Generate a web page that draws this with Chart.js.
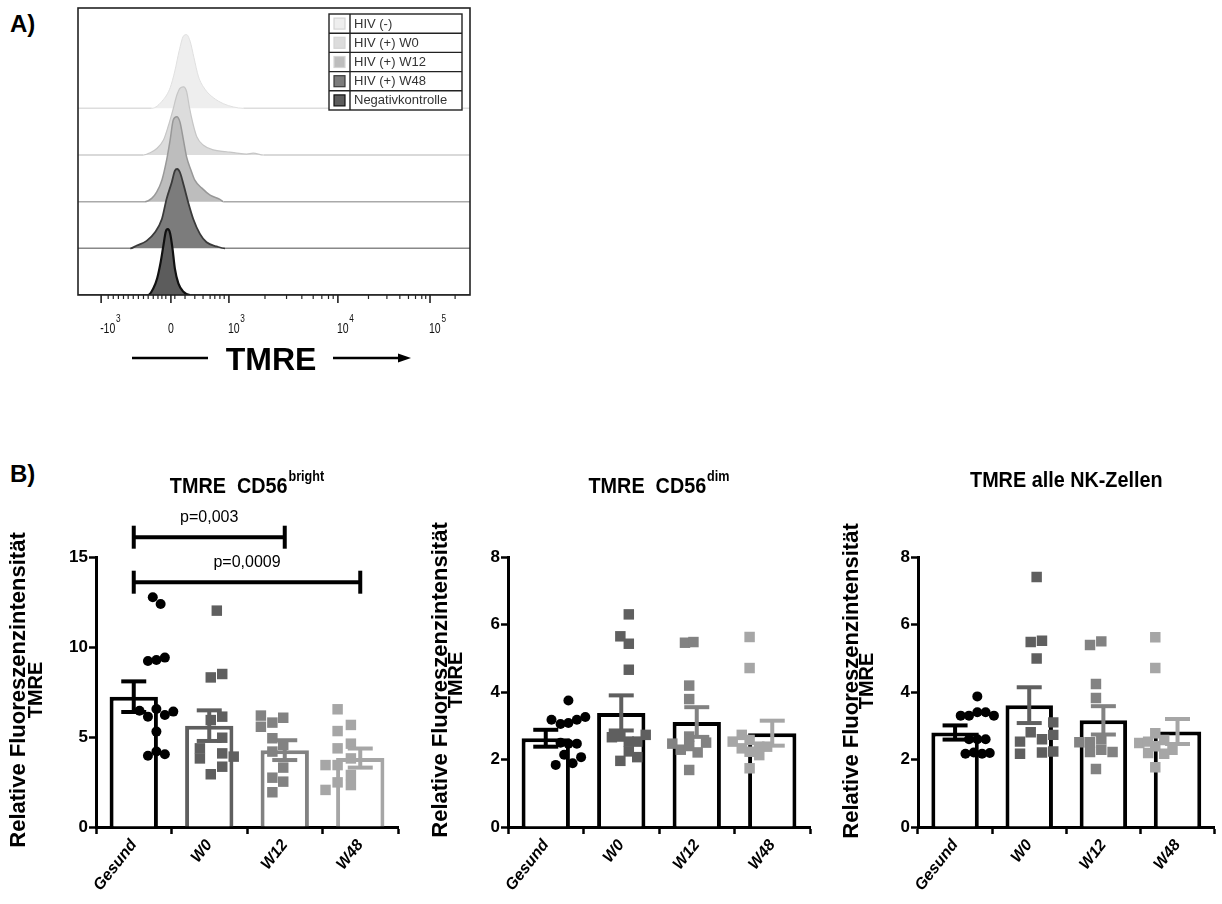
<!DOCTYPE html>
<html>
<head>
<meta charset="utf-8">
<title>TMRE</title>
<script src="https://cdn.jsdelivr.net/npm/chart.js@4.4.1/dist/chart.umd.min.js"></script>
<style>
  body { margin: 0; background: #fff; width: 1222px; height: 904px; overflow: hidden; position: relative;
         font-family: "Liberation Sans", Arial, sans-serif; }
  canvas { position: absolute; }
  .tag { position: absolute; font-weight: bold; font-size: 24px; line-height: 1; }
</style>
</head>
<body>
<div class="tag" style="left:10px;top:12px">A)</div>
<div class="tag" style="left:10px;top:462px">B)</div>
<canvas id="histChart" width="480" height="380" style="left:0;top:0"></canvas>
<canvas id="brightChart" width="410" height="444" style="left:0;top:460px"></canvas>
<canvas id="dimChart" width="410" height="444" style="left:410px;top:460px"></canvas>
<canvas id="allChart" width="402" height="444" style="left:820px;top:460px"></canvas>
<script>
// ---------- data: panel A (histogram, display channels 0..1000, counts in lane units)
const histLabels = ['HIV (-)', 'HIV (+) W0', 'HIV (+) W12', 'HIV (+) W48', 'Negativkontrolle'];
const hivNegX = [188, 218, 235, 247, 258, 269, 277, 286, 296, 307, 324, 345, 371, 396, 422];
const hivNegH = [0, 0.19, 0.44, 0.80, 1.23, 1.55, 1.58, 1.44, 1.08, 0.69, 0.41, 0.23, 0.10, 0.03, 0];
const w0X = [167, 184, 201, 218, 230, 242, 252, 260, 269, 277, 284, 293, 303, 320, 345, 379, 405, 430, 447, 473];
const w0H = [0, 0.05, 0.14, 0.32, 0.61, 0.96, 1.28, 1.43, 1.46, 1.36, 1.03, 0.68, 0.39, 0.21, 0.11, 0.07, 0.04, 0.02, 0.04, 0];
const w12X = [171, 188, 201, 214, 226, 235, 243, 252, 260, 269, 277, 288, 298, 316, 337, 362, 371];
const w12H = [0, 0.07, 0.21, 0.46, 0.89, 1.32, 1.75, 1.82, 1.71, 1.32, 0.96, 0.68, 0.46, 0.29, 0.14, 0.05, 0];
const w48X = [133, 150, 175, 196, 214, 226, 239, 247, 253, 260, 270, 281, 294, 311, 328, 354, 375];
const w48H = [0, 0.06, 0.16, 0.34, 0.63, 1.06, 1.41, 1.66, 1.70, 1.63, 1.34, 0.99, 0.63, 0.31, 0.13, 0.04, 0];
const negX = [179, 192, 202, 211, 218, 224, 229, 235, 241, 247, 256, 269, 286];
const negH = [0, 0.14, 0.36, 0.71, 1.07, 1.36, 1.41, 1.32, 1.0, 0.57, 0.25, 0.07, 0];

const histTickPos = [59, 237, 385, 663, 898];
const histTickBase = ['-10', '0', '10', '10', '10'];
const histTickExp = ['3', '', '3', '4', '5'];
const histMinorTicks = [77, 90, 103, 116, 128, 141, 154, 167, 179, 192, 204, 214, 224,
  247, 273, 298, 319, 337, 349, 362, 373, 477, 532, 571, 600, 622, 639, 651,
  741, 788, 821, 843, 861, 877, 887, 962];

// ---------- data: panel B
const categories = ['Gesund', 'W0', 'W12', 'W48'];

const brightGesund = [12.76, 12.39, 9.22, 9.28, 9.41, 6.46, 6.13, 6.56, 6.22, 6.41, 5.30, 3.96, 4.19, 4.04];
const brightW0 = [12.02, 8.31, 8.50, 5.94, 6.13, 4.37, 3.81, 4.96, 4.09, 3.91, 3.35, 2.93];
const brightW12 = [6.19, 5.57, 5.80, 6.07, 4.93, 4.56, 4.19, 3.30, 2.74, 2.52, 1.93];
const brightW48 = [6.54, 5.67, 5.33, 4.63, 4.37, 3.44, 3.81, 3.44, 2.89, 2.33, 2.48, 2.06];
const brightMean = [7.24, 5.63, 4.27, 3.83];
const brightSem = [0.85, 0.85, 0.55, 0.53];

const dimGesund = [3.75, 3.18, 3.05, 3.08, 3.18, 3.26, 2.50, 2.47, 2.47, 2.14, 2.07, 1.84, 1.89];
const dimW0 = [6.30, 5.65, 5.43, 4.66, 2.66, 2.68, 2.53, 2.53, 2.73, 2.24, 2.07, 1.96];
const dimW12 = [5.46, 5.48, 4.19, 3.79, 2.47, 2.50, 2.29, 2.21, 2.68, 2.40, 1.69];
const dimW48 = [5.63, 4.71, 2.73, 2.53, 2.58, 2.38, 2.38, 2.33, 2.13, 2.23, 1.74];
const dimMean = [2.63, 3.38, 3.11, 2.78];
const dimSem = [0.25, 0.52, 0.44, 0.37];

const allGesund = [3.87, 3.30, 3.30, 3.40, 3.40, 3.30, 2.60, 2.60, 2.60, 2.17, 2.21, 2.17, 2.19];
const allW0 = [7.41, 5.48, 5.52, 4.99, 2.81, 3.10, 2.73, 2.24, 2.53, 2.17, 2.60, 2.21];
const allW12 = [5.39, 5.50, 4.24, 3.82, 2.51, 2.22, 2.51, 2.60, 2.22, 2.29, 1.72];
const allW48 = [5.62, 4.71, 2.49, 2.53, 2.58, 2.29, 2.19, 2.17, 2.39, 1.77, 2.78];
const allMean = [2.80, 3.61, 3.16, 2.83];
const allSem = [0.21, 0.53, 0.42, 0.37];

// horizontal scatter of the dots inside each column, in category widths
const brightJitter = [
  [-0.06, 0.07, -0.14, 0, 0.14, -0.28, -0.14, 0, 0.14, 0.28, 0, -0.14, 0, 0.14],
  [0, -0.10, 0.09, -0.10, 0.09, -0.28, -0.28, 0.09, 0.09, 0.28, 0.09, -0.10],
  [-0.27, -0.27, -0.08, 0.10, -0.08, 0.10, -0.08, 0.10, -0.08, 0.10, -0.08],
  [0, 0.22, 0, 0.22, 0, -0.20, 0.22, 0, 0.22, 0.22, 0, -0.20]
];
const dimJitter = [
  [0, -0.28, -0.13, 0, 0.14, 0.28, -0.13, 0, 0.14, -0.07, 0.21, -0.21, 0.07],
  [0, -0.14, 0, 0, -0.28, -0.14, 0, 0.14, 0.28, 0, 0.14, -0.14],
  [-0.07, 0.07, 0, 0, -0.28, 0.28, -0.14, 0.14, 0, 0, 0],
  [0, 0, -0.13, -0.28, 0, 0.16, 0.29, -0.13, 0.16, 0, 0]
];
const allJitter = [
  [0, -0.28, -0.14, 0, 0.14, 0.28, -0.14, 0, 0.14, -0.20, -0.06, 0.08, 0.21],
  [0, -0.10, 0.09, 0, -0.10, 0.28, 0.28, 0.28, -0.28, -0.28, 0.09, 0.09],
  [-0.10, 0.09, 0, 0, -0.28, 0.28, -0.10, 0.09, -0.10, 0.09, 0],
  [0, 0, -0.27, -0.12, 0.15, 0.29, -0.12, 0.15, 0, 0, 0]
];

const sigPairs = [[0, 2], [0, 3]];
const sigLevels = [16.1, 13.6];
const sigLabels = ['p=0,003', 'p=0,0009'];

const yTitle = ['Relative Fluoreszenzintensität', 'TMRE'];

// ---------- styling
const FONT = '"Liberation Sans", Arial, Helvetica, sans-serif';
Chart.defaults.font.family = FONT;
Chart.defaults.color = '#000';
Chart.defaults.animation = false;

const histFill = ['#eeeeee', '#dcdcdc', '#bdbdbd', '#7c7c7c', '#5c5c5c'];
const histLine = ['#e0e0e0', '#c6c6c6', '#989898', '#3a3a3a', '#111111'];
const laneLine = ['#dddddd', '#cccccc', '#aaaaaa', '#888888', '#111111'];
const histWidth = [1, 1.2, 1.5, 1.8, 2.2];
const laneBase = [4, 3, 2, 1, 0];

const groupColors = ['#000000', '#5f5f5f', '#828282', '#a6a6a6'];

function line(ctx, x1, y1, x2, y2) {
    ctx.beginPath();
    ctx.moveTo(x1, y1);
    ctx.lineTo(x2, y2);
    ctx.stroke();
}

// ---------- panel A
const histSeries = [[hivNegX, hivNegH], [w0X, w0H], [w12X, w12H], [w48X, w48H], [negX, negH]];

const histDatasets = histSeries.map(([xs, hs], i) => {
    const base = laneBase[i];
    const pts = [{ x: 0, y: base }];
    xs.forEach((v, k) => pts.push({ x: v, y: base + hs[k] }));
    pts.push({ x: 1000, y: base });
    return {
        label: histLabels[i],
        data: pts,
        order: 4 - i,
        fill: { value: base },
        backgroundColor: histFill[i],
        borderColor: histLine[i],
        borderWidth: histWidth[i],
        pointRadius: 0,
        cubicInterpolationMode: 'monotone',
        segment: {
            borderColor: c => (c.p0.parsed.y === base && c.p1.parsed.y === base) ? laneLine[i] : undefined,
            borderWidth: c => (c.p0.parsed.y === base && c.p1.parsed.y === base) ? 1.5 : undefined
        }
    };
});

const histDecor = {
    id: 'histDecor',
    afterDraw(chart) {
        const { ctx, chartArea: a, scales: { x } } = chart;
        ctx.save();
        ctx.strokeStyle = '#222';
        ctx.lineWidth = 1.6;
        ctx.strokeRect(a.left, a.top, a.right - a.left, a.bottom - a.top);

        // axis ticks
        ctx.lineWidth = 1.6;
        histTickPos.forEach(v => { const px = x.getPixelForValue(v); line(ctx, px, a.bottom, px, a.bottom + 8); });
        ctx.lineWidth = 1.2;
        histMinorTicks.forEach(v => { const px = x.getPixelForValue(v); line(ctx, px, a.bottom, px, a.bottom + 4); });

        // tick labels with exponents (narrow type, as in the cytometry export)
        ctx.fillStyle = '#111';
        ctx.textBaseline = 'alphabetic';
        histTickPos.forEach((v, i) => {
            const px = x.getPixelForValue(v);
            ctx.save();
            ctx.translate(px - 1, 333);
            ctx.scale(0.75, 1);
            ctx.font = '14px ' + FONT;
            if (!histTickExp[i]) {
                ctx.textAlign = 'center';
                ctx.fillText(histTickBase[i], 1.2, 0);
            } else {
                ctx.textAlign = 'left';
                const w = ctx.measureText(histTickBase[i]).width;
                ctx.fillText(histTickBase[i], 0, 0);
                ctx.font = '11px ' + FONT;
                ctx.fillText(histTickExp[i], w + 1, -11);
            }
            ctx.restore();
        });

        // legend table
        const lx = 329, ly = 14, lw = 133, rh = 19.2;
        ctx.fillStyle = '#fff';
        ctx.fillRect(lx, ly, lw, rh * histLabels.length);
        ctx.strokeStyle = '#222';
        ctx.lineWidth = 1.4;
        ctx.strokeRect(lx, ly, lw, rh * histLabels.length);
        line(ctx, lx + 21, ly, lx + 21, ly + rh * histLabels.length);
        histLabels.forEach((lab, i) => {
            const cy = ly + rh * i + rh / 2;
            if (i > 0) line(ctx, lx, ly + rh * i, lx + lw, ly + rh * i);
            ctx.fillStyle = histFill[i];
            ctx.fillRect(lx + 5, cy - 5.5, 11, 11);
            ctx.strokeStyle = i > 2 ? histLine[i] : '#d4d4d4';
            ctx.lineWidth = 1.2;
            ctx.strokeRect(lx + 5, cy - 5.5, 11, 11);
            ctx.strokeStyle = '#222';
            ctx.lineWidth = 1.4;
            ctx.fillStyle = '#333';
            ctx.font = '13px ' + FONT;
            ctx.textAlign = 'left';
            ctx.textBaseline = 'middle';
            ctx.fillText(lab, lx + 25, cy + 0.5);
        });

        // axis name with arrows
        ctx.fillStyle = '#000';
        ctx.font = 'bold 32px ' + FONT;
        ctx.textAlign = 'center';
        ctx.textBaseline = 'alphabetic';
        ctx.fillText('TMRE', 271, 370);
        ctx.strokeStyle = '#000';
        ctx.lineWidth = 2.4;
        line(ctx, 132, 358, 208, 358);
        line(ctx, 333, 358, 400, 358);
        ctx.beginPath();
        ctx.moveTo(398, 353.5);
        ctx.lineTo(411, 358);
        ctx.lineTo(398, 362.5);
        ctx.closePath();
        ctx.fill();
        ctx.restore();
    }
};

new Chart(document.getElementById('histChart'), {
    type: 'line',
    data: { datasets: histDatasets },
    options: {
        responsive: false,
        events: [],
        layout: { padding: { left: 78, right: 10, top: 8, bottom: 85 } },
        plugins: { legend: { display: false }, tooltip: { enabled: false } },
        scales: {
            x: { type: 'linear', min: 0, max: 1000, display: false },
            y: { min: 0, max: 6.15, display: false }
        }
    },
    plugins: [histDecor]
});

// ---------- panel B
function makeDecor(c) {
    return {
        id: 'barDecor',
        afterDatasetsDraw(chart) {
            const { ctx, scales: { x, y } } = chart;
            ctx.save();
            ctx.lineWidth = 4;
            c.means.forEach((m, i) => {
                const px = x.getPixelForValue(i);
                const top = y.getPixelForValue(m + c.sem[i]);
                const bot = y.getPixelForValue(m - c.sem[i]);
                ctx.strokeStyle = groupColors[i];
                line(ctx, px, top, px, bot);
                line(ctx, px - 12.5, top, px + 12.5, top);
                line(ctx, px - 12.5, bot, px + 12.5, bot);
            });
            // significance brackets
            (c.pairs || []).forEach(([a, b], i) => {
                const x1 = x.getPixelForValue(a), x2 = x.getPixelForValue(b);
                const py = y.getPixelForValue(c.levels[i]);
                ctx.strokeStyle = '#000';
                line(ctx, x1, py, x2, py);
                line(ctx, x1, py - 11.5, x1, py + 11.5);
                line(ctx, x2, py - 11.5, x2, py + 11.5);
                ctx.fillStyle = '#000';
                ctx.font = '16px ' + FONT;
                ctx.textAlign = 'center';
                ctx.textBaseline = 'alphabetic';
                ctx.fillText(c.sigText[i], (x1 + x2) / 2, py - 15);
            });
            ctx.restore();
        },
        afterDraw(chart) {
            const { ctx, chartArea: a } = chart;
            const mainFont = 'bold 22px ' + FONT, supFont = 'bold 14px ' + FONT;
            ctx.save();
            ctx.font = mainFont;
            const wMain = ctx.measureText(c.title).width;
            ctx.font = supFont;
            const wSup = c.sup ? ctx.measureText(c.sup).width + 1 : 0;
            const x0 = (a.left + a.right) / 2 - (wMain + wSup) * 0.9 / 2;
            ctx.translate(x0, c.titleY);
            ctx.scale(0.9, 1);
            ctx.fillStyle = '#000';
            ctx.textAlign = 'left';
            ctx.textBaseline = 'alphabetic';
            ctx.font = mainFont;
            ctx.fillText(c.title, 0, 0);
            if (c.sup) {
                ctx.font = supFont;
                ctx.fillText(c.sup, wMain + 1, -12);
            }
            ctx.restore();

            // two-line y axis title, rotated
            ctx.save();
            ctx.fillStyle = '#000';
            ctx.textAlign = 'center';
            ctx.textBaseline = 'alphabetic';
            ctx.translate(c.yBase[0], c.yMid);
            ctx.rotate(-Math.PI / 2);
            ctx.font = 'bold 22px ' + FONT;
            ctx.fillText(yTitle[0], 0, 0);
            ctx.font = 'bold 20px ' + FONT;
            ctx.fillText(yTitle[1], 0, c.yBase[1] - c.yBase[0]);
            ctx.restore();
        }
    };
}

function makeBarChart(id, c) {
    const pts = [], shapes = [], colors = [], radii = [];
    c.values.forEach((vals, g) => vals.forEach((v, k) => {
        pts.push({ x: g + c.jitter[g][k], y: v });
        shapes.push(g === 0 ? 'circle' : 'rect');
        colors.push(groupColors[g]);
        radii.push(g === 0 ? 5 : 7.4);
    }));

    return new Chart(document.getElementById(id), {
        type: 'bar',
        data: {
            labels: categories,
            datasets: [
                {
                    type: 'scatter', xAxisID: 'xj', data: pts, order: 0,
                    pointStyle: shapes, pointRadius: radii, pointBackgroundColor: colors,
                    pointBorderWidth: 0, showLine: false
                },
                {
                    type: 'bar', data: c.means, order: 1, grouped: false,
                    backgroundColor: '#ffffff', borderColor: c.barBorders, borderWidth: 4,
                    borderSkipped: 'start', barPercentage: 0.64, categoryPercentage: 1
                }
            ]
        },
        options: {
            responsive: false,
            events: [],
            layout: { padding: { left: 0, right: c.padRight, top: 97, bottom: 0 } },
            plugins: { legend: { display: false }, tooltip: { enabled: false } },
            scales: {
                x: {
                    type: 'category',
                    offset: true,
                    grid: { drawOnChartArea: false, drawTicks: true, tickLength: 7, tickWidth: 2.5, tickColor: '#000' },
                    border: { color: '#000', width: 3 },
                    ticks: {
                        color: '#000', padding: 2, minRotation: 52, maxRotation: 52,
                        font: { size: 16, weight: 'bold', style: 'italic' }
                    },
                    afterFit: s => { s.height = 77; }
                },
                xj: { type: 'linear', display: false, min: -0.5, max: 3.5 },
                y: {
                    min: 0, max: c.max,
                    ticks: { stepSize: c.step, color: '#000', padding: 1, font: { size: 17, weight: 'bold' } },
                    grid: { drawOnChartArea: false, tickLength: 7, tickWidth: 2.5, tickColor: '#000' },
                    border: { color: '#000', width: 3 },
                    afterFit: s => { s.width = c.left; }
                }
            }
        },
        plugins: [makeDecor(c)]
    });
}

makeBarChart('brightChart', {
    values: [brightGesund, brightW0, brightW12, brightW48], jitter: brightJitter,
    means: brightMean, sem: brightSem, max: 15, step: 5,
    left: 96, padRight: 12, yBase: [25, 42], yMid: 230,
    title: 'TMRE  CD56', sup: 'bright', titleY: 33,
    barBorders: groupColors,
    pairs: sigPairs, levels: sigLevels, sigText: sigLabels
});

makeBarChart('dimChart', {
    values: [dimGesund, dimW0, dimW12, dimW48], jitter: dimJitter,
    means: dimMean, sem: dimSem, max: 8, step: 2,
    left: 98, padRight: 10, yBase: [37, 52], yMid: 220,
    title: 'TMRE  CD56', sup: 'dim', titleY: 33,
    barBorders: '#000'
});

makeBarChart('allChart', {
    values: [allGesund, allW0, allW12, allW48], jitter: allJitter,
    means: allMean, sem: allSem, max: 8, step: 2,
    left: 98, padRight: 0, yBase: [38, 53], yMid: 221,
    title: 'TMRE alle NK-Zellen', sup: '', titleY: 27,
    barBorders: '#000'
});
</script>
</body>
</html>
